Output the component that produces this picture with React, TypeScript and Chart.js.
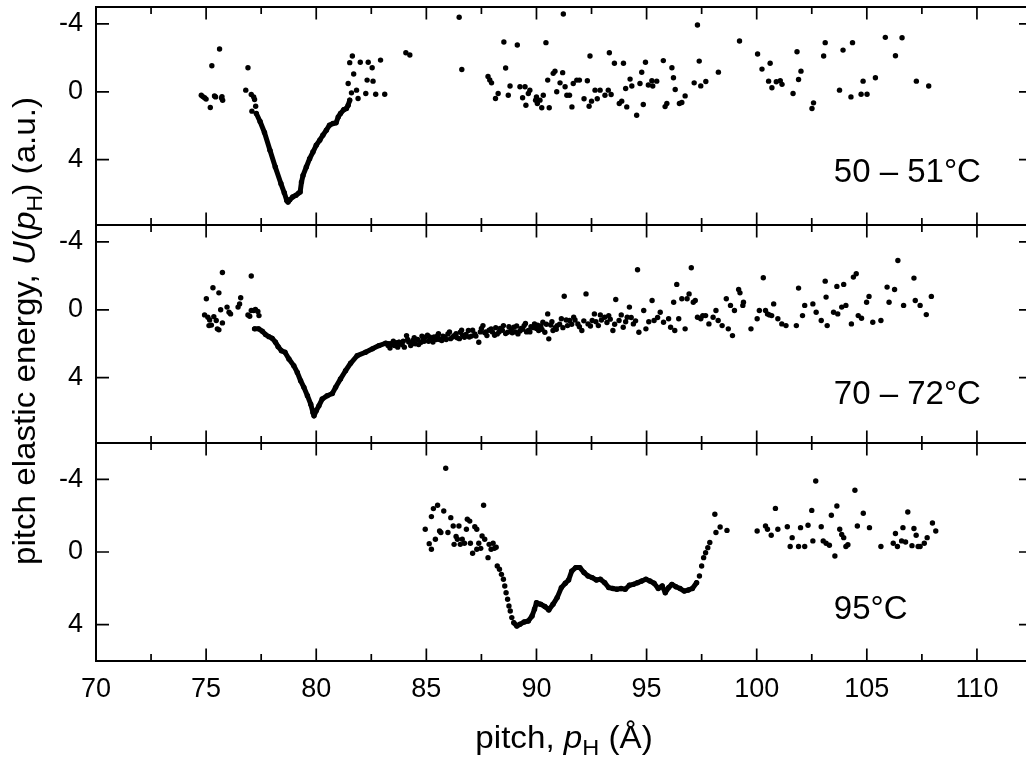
import React, { useEffect, useRef } from "react";
import { Chart, registerables } from "chart.js";

Chart.register(...registerables);

// ---------- data ----------
const xTicks = [70, 75, 80, 85, 90, 95, 100, 105, 110];
const xMinorTicks = [72.5, 77.5, 82.5, 87.5, 92.5, 97.5, 102.5, 107.5];
const yTicks = [-4, 0, 4];

const panelLabels = ["50 – 51°C", "70 – 72°C", "95°C"];

// panel 1 (50 – 51 °C)
const p1Scatter: number[][] = [
  [74.78, 0.2], [74.85, 0.28], [74.93, 0.35], [75.0, 0.43], [75.19, 0.92], [75.26, -1.54],
  [75.38, 0.25], [75.43, 0.3], [75.61, -2.52], [75.7, 0.37], [75.72, 0.28], [75.75, 0.5],
  [76.8, -0.1], [76.9, -1.42], [77.05, 0.16], [77.16, 0.3], [77.2, 0.45], [77.25, 0.85], [77.08, 1.14],
  [81.45, -0.49], [81.52, -1.72], [81.64, -2.11], [81.7, -1.05], [81.6, 0.06], [81.83, -0.1],
  [81.9, 0.39], [82.0, -1.74], [82.25, 0.1], [82.31, -0.69], [82.36, -1.74], [82.54, -1.42],
  [82.58, -0.63], [82.7, 0.14], [82.92, -1.87], [83.11, 0.14],
  [84.07, -2.3], [84.25, -2.17], [86.49, -4.4], [86.61, -1.32],
  [87.8, -0.9], [87.88, -0.7], [87.96, -0.53], [88.14, 0.39], [88.26, 0.1], [88.52, -2.94],
  [88.6, -1.4], [88.72, 0.2], [88.8, -0.34], [89.13, -2.76], [89.25, -0.3], [89.48, -0.3],
  [89.37, 0.35], [89.52, 0.79], [89.63, 0.1], [89.7, -0.1], [89.96, 0.49], [90.0, 0.3],
  [90.04, 0.69], [90.16, 0.49], [90.24, 0.94], [90.31, 0.2], [90.43, -2.9], [90.51, -0.69],
  [90.58, 0.94], [90.76, -1.09], [90.84, -1.22], [90.92, 0.0], [91.07, -0.53], [91.19, -1.13],
  [91.22, -4.59], [91.3, -0.3], [91.38, 0.2], [91.5, 0.2], [91.61, 0.89], [91.67, -0.49],
  [91.83, -0.69], [91.95, -0.69], [92.16, 0.41], [92.31, -0.65], [92.43, -2.11], [92.39, 0.85],
  [92.5, 0.55], [92.66, -0.1], [92.89, -0.1], [92.76, 0.41], [93.11, 0.2], [93.26, -0.1],
  [93.39, 0.16], [93.31, -2.3], [93.54, -1.68], [93.95, -1.68], [93.76, 0.69], [93.87, 0.55],
  [94.1, 0.89], [94.05, -0.2], [94.25, -0.75], [94.33, -0.34], [94.55, 1.38], [94.7, -0.49],
  [94.78, -1.15], [94.85, 0.75], [94.95, -1.74], [95.08, -0.4], [95.28, -0.34], [95.46, -0.63],
  [95.24, -0.65], [95.76, -1.84], [95.84, 0.87], [95.92, 0.69], [96.15, -1.42], [96.22, -0.83],
  [96.3, -0.14], [96.49, 0.69], [96.6, 0.63], [96.75, 0.24], [97.16, -0.53], [97.31, -3.94],
  [97.39, -1.81], [97.46, -0.35], [97.69, -0.61], [98.26, -1.16], [99.22, -3.0], [100.04, -2.23],
  [100.24, -1.34], [100.61, -1.68], [100.54, -0.63], [100.69, -0.24], [100.89, -0.59],
  [101.07, -0.65], [101.15, -0.44], [101.65, 0.1], [101.83, -2.36], [101.9, -0.73], [102.01, -1.22],
  [102.51, 0.98], [102.58, 0.65], [103.04, -2.11], [103.11, -2.9], [103.76, -0.1], [103.92, -2.46],
  [104.28, 0.3], [104.35, -2.9], [104.74, 0.14], [105.01, 0.14], [104.83, -0.63], [105.39, -0.83],
  [105.84, -3.21], [106.3, -2.13], [106.6, -3.19], [107.25, -0.63], [107.81, -0.34],
];
const p1Curve: number[][] = [
  [77.28, 1.28], [77.45, 1.75], [77.65, 2.4], [77.9, 3.45], [78.14, 4.43], [78.4, 5.42],
  [78.55, 5.95], [78.66, 6.4], [78.72, 6.5], [78.8, 6.36], [78.93, 6.2], [79.08, 6.1],
  [79.2, 5.97], [79.27, 5.9], [79.33, 5.32], [79.4, 4.93], [79.55, 4.43], [79.7, 3.94],
  [79.85, 3.55], [80.0, 3.15], [80.16, 2.85], [80.3, 2.56], [80.46, 2.26], [80.6, 1.97],
  [80.76, 1.87], [80.9, 1.83], [81.0, 1.48], [81.1, 1.28], [81.25, 1.05], [81.37, 0.98],
  [81.45, 0.79], [81.52, 0.49],
];

// panel 2 (70 – 72 °C)
const p2Scatter: number[][] = [
  [74.93, 0.3], [75.01, -0.65], [75.08, 0.44], [75.16, 0.6], [75.13, 0.93], [75.24, 0.9],
  [75.31, -1.3], [75.35, 0.4], [75.46, 0.63], [75.51, 1.12], [75.58, 1.18], [75.58, -1.0],
  [75.66, 0.0], [75.74, 0.77], [75.74, -2.2], [75.95, -0.16], [76.04, 0.14], [76.11, 0.24],
  [76.45, -0.16], [76.52, -0.35], [76.57, -0.71], [76.9, 0.3], [76.98, 0.38], [77.05, -1.99],
  [77.05, 0.04], [77.16, 0.04], [77.24, -0.02], [77.35, 0.1], [77.4, 0.34],
  [83.26, 2.11], [83.4, 2.0], [83.55, 2.1], [83.65, 1.95], [83.82, 2.0], [83.95, 1.85],
  [84.1, 1.52], [84.2, 1.9], [84.29, 2.11], [84.39, 1.81], [84.5, 2.0], [84.6, 1.75],
  [84.76, 1.91], [84.85, 1.7], [84.95, 1.62], [85.1, 1.85], [85.23, 1.71], [85.35, 1.6],
  [85.51, 1.52], [85.6, 1.75], [85.7, 1.81], [85.85, 1.6], [85.98, 1.42], [86.1, 1.7],
  [86.26, 1.52], [86.4, 1.65], [86.54, 1.32], [86.65, 1.5], [86.73, 1.62], [86.91, 1.22],
  [87.05, 1.55], [87.2, 1.42], [87.38, 1.91], [87.45, 1.3], [87.57, 0.93], [87.65, 1.35],
  [87.75, 1.52], [87.85, 1.2], [87.94, 1.12], [88.1, 1.5], [88.22, 1.42], [88.35, 1.1],
  [88.5, 0.93], [88.6, 1.4], [88.69, 1.32], [88.85, 1.15], [88.97, 1.03], [89.05, 1.3],
  [89.16, 1.42], [89.3, 1.1], [89.44, 0.93], [89.55, 1.3], [89.63, 1.22], [89.75, 1.0],
  [89.91, 0.83], [90.0, 1.1], [90.1, 1.22], [90.2, 0.95], [90.29, 0.73], [90.38, 1.32],
  [90.51, 0.24], [90.56, 1.71], [90.65, 0.9], [90.75, 1.22], [90.85, 1.05], [90.94, 0.93],
  [83.35, 2.25], [83.5, 1.85], [83.7, 2.2], [83.9, 2.05], [84.0, 2.2], [84.15, 1.75],
  [84.35, 2.0], [84.45, 1.65], [84.65, 2.05], [84.8, 1.55], [84.9, 1.85], [85.05, 1.5],
  [85.15, 1.6], [85.3, 1.9], [85.45, 1.75], [85.55, 1.4], [85.75, 1.55], [85.9, 1.75],
  [86.05, 1.3], [86.2, 1.6], [86.35, 1.4], [86.5, 1.7], [86.6, 1.2], [86.8, 1.45],
  [86.95, 1.6], [87.1, 1.2], [87.25, 1.55], [87.5, 1.1], [87.7, 1.3], [88.0, 1.3],
  [88.15, 1.05], [88.3, 1.3], [88.45, 1.2], [88.75, 1.0], [88.9, 1.35], [89.1, 0.95],
  [89.25, 1.25], [89.38, 1.15], [89.5, 0.8], [89.7, 1.3], [89.85, 1.05], [90.05, 0.9],
  [90.25, 1.15], [90.45, 0.85], [90.7, 0.7], [90.9, 1.15], [91.05, 0.85], [91.2, 1.05],
  [91.35, 0.6], [91.6, 0.85], [91.75, 0.6], [91.95, 1.0], [92.15, 0.65], [92.45, 0.95],
  [92.7, 0.7], [92.9, 0.3], [93.2, 0.75], [93.35, 0.55], [93.55, 0.85], [93.85, 0.3],
  [94.05, 0.7], [94.3, 0.45], [94.5, 0.65],
  [91.13, 0.53], [91.26, -0.8], [91.41, 0.93], [91.5, 0.63], [91.69, 0.44], [91.88, 0.83],
  [92.06, 1.22], [92.25, -0.94], [92.34, 0.83], [92.53, 0.63], [92.63, 0.24], [92.81, 0.93],
  [92.95, 0.6], [93.1, 0.44], [93.28, 0.34], [93.47, 1.22], [93.6, -0.61], [93.75, 0.63],
  [93.94, 1.03], [94.12, 0.44], [94.22, -0.16], [94.4, 0.83], [94.59, -2.36], [94.65, 1.32],
  [94.87, 0.04], [94.97, 1.12], [95.1, 0.7], [95.25, -0.55], [95.34, 0.63], [95.5, 0.45],
  [95.62, 0.14], [95.77, 0.73], [96.0, 0.53], [96.09, 1.03], [96.23, -0.45], [96.28, 1.22],
  [96.37, -1.5], [96.46, 0.53], [96.6, -0.65], [96.75, 1.12], [96.84, -0.65], [96.93, -0.94],
  [97.03, -2.48], [97.12, -0.45], [97.21, -0.55], [97.31, 0.44], [97.46, 0.53], [97.55, 0.35],
  [97.68, 0.34], [97.83, 0.83], [98.02, 0.44], [98.15, 0.04], [98.25, 0.63], [98.43, 0.93],
  [98.62, -0.65], [98.71, 1.12], [98.81, -0.26], [98.9, 1.52], [98.99, 0.04], [99.18, -1.2],
  [99.24, -1.0], [99.37, -0.26], [99.4, -0.45], [99.74, 1.12], [100.02, 0.53], [100.12, 0.04],
  [100.3, -1.89], [100.4, 0.04], [100.49, 0.24], [100.58, 0.3], [100.68, 0.34], [100.77, -0.35],
  [100.96, 0.53], [101.14, 0.83], [101.33, 0.93], [101.8, 0.93], [101.9, -1.28], [102.08, 0.34],
  [102.18, -0.26], [102.55, -0.35], [102.7, 0.14], [102.93, 0.63], [103.11, -1.69], [103.15, -0.75],
  [103.2, 0.93], [103.49, 0.14], [103.64, -1.38], [103.68, 0.24], [103.86, -0.16], [103.95, -1.5],
  [104.05, -0.26], [104.3, 0.83], [104.39, -1.93], [104.52, -2.13], [104.61, 0.34], [104.76, 0.5],
  [104.99, -0.45], [105.1, -0.79], [105.27, 0.73], [105.64, 0.63], [105.92, -1.34], [106.01, -0.45],
  [106.26, -1.2], [106.41, -2.91], [106.67, -0.26], [107.14, -1.87], [107.2, -0.55], [107.42, -0.26],
  [107.7, 0.28], [107.93, -0.79],
];
const p2Curve: number[][] = [
  [77.2, 1.12], [77.39, 1.12], [77.55, 1.26], [77.7, 1.46], [77.85, 1.58], [78.0, 1.68],
  [78.15, 1.91], [78.27, 2.17], [78.42, 2.41], [78.58, 2.5], [78.76, 2.9], [78.98, 3.29],
  [79.14, 3.69], [79.29, 4.18], [79.44, 4.57], [79.6, 5.06], [79.75, 5.56], [79.85, 6.05],
  [79.9, 6.25], [80.0, 5.95], [80.12, 5.66], [80.27, 5.26], [80.5, 5.06], [80.73, 4.93],
  [80.88, 4.57], [81.1, 4.08], [81.33, 3.59], [81.56, 3.15], [81.86, 2.7], [82.24, 2.5],
  [82.55, 2.3], [82.85, 2.11], [83.15, 1.97], [83.45, 2.01], [83.76, 1.91],
];

// panel 3 (95 °C)
const p3Scatter: number[][] = [
  [84.95, -1.25], [85.13, -0.46], [85.23, -0.15], [85.23, -1.95], [85.32, -2.39], [85.41, -0.7],
  [85.51, -2.57], [85.6, -1.16], [85.66, -1.07], [85.79, -2.26], [85.88, -4.61], [85.98, -1.07],
  [86.11, -1.89], [86.22, -1.43], [86.26, -0.42], [86.35, -0.85], [86.41, -0.7], [86.48, -1.43],
  [86.54, -0.42], [86.63, -0.7], [86.73, -0.48], [86.82, -1.25], [86.86, -1.8], [86.97, -1.7],
  [87.0, -0.48], [87.1, 0.07], [87.2, -1.39], [87.29, -1.25], [87.29, -0.15], [87.38, -0.48],
  [87.47, -0.2], [87.53, -0.88], [87.6, -2.57], [87.65, -0.7], [87.8, 0.31], [87.85, -0.42],
  [87.94, -0.15], [88.03, -0.48], [88.09, -0.2], [88.17, -0.26],
  [88.22, 0.77], [88.32, 0.95], [88.41, 1.23], [88.5, 1.5], [88.56, 1.87], [88.62, 2.24],
  [88.69, 2.6], [88.75, 2.97], [88.81, 3.25], [88.88, 3.61],
  [97.4, 1.32], [97.5, 0.77], [97.59, 0.31], [97.68, 0.04], [97.78, -0.24], [97.87, -0.52],
  [98.1, -2.08], [98.15, -1.07], [98.34, -1.38], [98.65, -1.19],
  [100.02, -1.16], [100.4, -1.43], [100.49, -1.25], [100.66, -0.92], [100.85, -2.4], [100.96, -1.25],
  [101.39, -1.39], [101.61, -0.79], [101.52, -0.3], [101.9, -0.3], [102.18, -0.3], [101.99, -1.34],
  [102.33, -1.47], [102.5, -2.29], [102.55, -0.61], [102.68, -3.91], [102.93, -1.39], [103.02, -0.61],
  [103.15, -0.48], [103.3, -0.37], [103.39, -2.02], [103.55, 0.22], [103.64, -2.53], [103.77, -1.25],
  [103.86, -0.97], [103.95, -0.79], [104.05, -0.3], [104.14, -0.4], [104.46, -3.4], [104.57, -1.43],
  [104.84, -2.13], [105.12, -1.34], [105.64, -0.3], [106.2, -0.48], [106.3, -1.02], [106.39, -0.3],
  [106.58, -0.61], [106.64, -1.34], [106.76, -0.55], [106.86, -2.2], [107.05, -0.35], [107.14, -1.29],
  [107.24, -0.92], [107.33, -0.3], [107.42, -0.3], [107.61, -0.48], [107.74, -0.79], [107.98, -1.6],
  [108.13, -1.16],
];
const p3Curve: number[][] = [
  [88.97, 3.89], [89.11, 4.07], [89.25, 3.98], [89.44, 3.85], [89.63, 3.8], [89.8, 3.52],
  [89.91, 3.15], [90.0, 2.79], [90.19, 2.88], [90.38, 3.0], [90.56, 3.19], [90.75, 2.88],
  [90.94, 2.51], [91.13, 1.96], [91.31, 1.72], [91.46, 1.54], [91.6, 1.05], [91.78, 0.86],
  [91.97, 0.86], [92.16, 1.13], [92.34, 1.32], [92.53, 1.41], [92.72, 1.54], [92.9, 1.5],
  [93.1, 1.69], [93.28, 1.96], [93.47, 2.01], [93.65, 2.05], [93.84, 2.01], [94.03, 2.05],
  [94.22, 1.83], [94.4, 1.78], [94.59, 1.69], [94.78, 1.6], [94.97, 1.5], [95.15, 1.6],
  [95.34, 1.72], [95.53, 2.01], [95.71, 1.87], [95.85, 2.24], [96.0, 1.96], [96.15, 1.78],
  [96.33, 1.91], [96.52, 2.01], [96.71, 2.15], [96.9, 2.09], [97.08, 2.01], [97.27, 1.69],
];

// ---------- layout / style constants ----------
const FONT = '"Liberation Sans", Arial, Helvetica, sans-serif';
const CANVAS_W = 1040;
const CANVAS_H = 764;
const panelIds = ["y1", "y2", "y3"];
const panelRange = [
  { min: -5, max: 7.85 },
  { min: -5, max: 7.85 },
  { min: -6, max: 6 },
];
const labelAnchor = [
  { x: 103.5, y: 5.34 },
  { x: 103.5, y: 5.56 },
  { x: 103.5, y: 3.7 },
];

type Seg = { t: string; it?: boolean; sub?: boolean };
const xTitleSegs: Seg[] = [{ t: "pitch, " }, { t: "p", it: true }, { t: "H", sub: true }, { t: " (Å)" }];
const yTitleSegs: Seg[] = [
  { t: "pitch elastic energy, " },
  { t: "U", it: true },
  { t: "(" },
  { t: "p", it: true },
  { t: "H", sub: true },
  { t: ") (a.u.)" },
];

function drawRich(ctx: CanvasRenderingContext2D, segs: Seg[], size: number) {
  const fontFor = (s: Seg) => `${s.it ? "italic " : ""}${s.sub ? Math.round(size * 0.7) : size}px ${FONT}`;
  let total = 0;
  const widths = segs.map((s) => {
    ctx.font = fontFor(s);
    const w = ctx.measureText(s.t).width;
    total += w;
    return w;
  });
  let x = -total / 2;
  segs.forEach((s, i) => {
    ctx.font = fontFor(s);
    ctx.fillText(s.t, x, s.sub ? size * 0.24 : 0);
    x += widths[i];
  });
}

const framePlugin = {
  id: "panelFrames",
  afterDraw(chart: any) {
    const ctx: CanvasRenderingContext2D = chart.ctx;
    const xs = chart.scales.x;
    const { left, right, top, bottom } = chart.chartArea;
    ctx.save();
    ctx.strokeStyle = "#000";
    ctx.fillStyle = "#000";
    panelIds.forEach((id, i) => {
      const ys = chart.scales[id];
      const pt = ys.top;
      const pb = ys.bottom;
      ctx.lineWidth = 1.7;
      ctx.beginPath();
      xTicks.forEach((v) => {
        const px = xs.getPixelForValue(v);
        ctx.moveTo(px, pt);
        ctx.lineTo(px, pt + 12.5);
        ctx.moveTo(px, pb);
        ctx.lineTo(px, pb - 12.5);
      });
      xMinorTicks.forEach((v) => {
        const px = xs.getPixelForValue(v);
        ctx.moveTo(px, pt);
        ctx.lineTo(px, pt + 7);
        ctx.moveTo(px, pb);
        ctx.lineTo(px, pb - 7);
      });
      yTicks.forEach((v) => {
        const py = ys.getPixelForValue(v);
        ctx.moveTo(left, py);
        ctx.lineTo(left + 13, py);
        ctx.moveTo(right, py);
        ctx.lineTo(right - 13, py);
      });
      ctx.stroke();
      ctx.lineWidth = 2;
      ctx.strokeRect(left, pt, right - left, pb - pt);

      // panel label
      ctx.font = `33px ${FONT}`;
      ctx.textAlign = "left";
      ctx.textBaseline = "alphabetic";
      ctx.fillText(panelLabels[i], xs.getPixelForValue(labelAnchor[i].x), ys.getPixelForValue(labelAnchor[i].y));
    });

    // x title
    ctx.textAlign = "left";
    ctx.textBaseline = "alphabetic";
    ctx.save();
    ctx.translate((left + right) / 2, 748);
    ctx.scale(1.07, 1);
    drawRich(ctx, xTitleSegs, 31);
    ctx.restore();

    // y title
    ctx.save();
    ctx.translate(35, (top + bottom) / 2 - 3);
    ctx.rotate(-Math.PI / 2);
    ctx.scale(1.07, 1);
    drawRich(ctx, yTitleSegs, 31);
    ctx.restore();

    ctx.restore();
  },
};

function toPts(a: number[][]) {
  return a.map((p) => ({ x: p[0], y: p[1] }));
}

export default function App() {
  const ref = useRef<HTMLCanvasElement | null>(null);

  useEffect(() => {
    if (!ref.current) return;
    const dot = {
      showLine: false,
      pointRadius: 2.7,
      pointBorderWidth: 0,
      pointBackgroundColor: "#000",
      backgroundColor: "#000",
      borderColor: "#000",
    };
    const curve = {
      showLine: true,
      borderWidth: 5,
      borderColor: "#000",
      backgroundColor: "#000",
      pointRadius: 2.7,
      pointBorderWidth: 0,
      pointBackgroundColor: "#000",
      tension: 0,
      borderCapStyle: "round",
      borderJoinStyle: "round",
      fill: false,
    };
    const datasets: any[] = [
      { ...dot, label: "p1 scatter", data: toPts(p1Scatter), yAxisID: "y1" },
      { ...curve, label: "p1 curve", data: toPts(p1Curve), yAxisID: "y1" },
      { ...dot, label: "p2 scatter", data: toPts(p2Scatter), yAxisID: "y2" },
      { ...curve, label: "p2 curve", data: toPts(p2Curve), yAxisID: "y2" },
      { ...dot, label: "p3 scatter", data: toPts(p3Scatter), yAxisID: "y3" },
      { ...curve, label: "p3 curve", data: toPts(p3Curve), yAxisID: "y3" },
    ];

    const yScale = (i: number) => ({
      type: "linear",
      position: "left",
      stack: "panels",
      stackWeight: 1,
      weight: 3 - i,
      reverse: true,
      min: panelRange[i].min,
      max: panelRange[i].max,
      afterBuildTicks: (s: any) => {
        s.ticks = yTicks.map((v) => ({ value: v }));
      },
      afterFit: (s: any) => {
        s.width = 96;
        s.paddingTop = 0;
        s.paddingBottom = 0;
      },
      grid: { display: false, drawTicks: false },
      border: { display: false },
      ticks: {
        padding: 13,
        color: "#000",
        font: { family: FONT, size: 27 },
        callback: (v: any) => String(v),
      },
    });

    const chart = new Chart(ref.current, {
      type: "scatter",
      data: { datasets },
      options: {
        animation: false,
        responsive: false,
        devicePixelRatio: 1,
        events: [],
        layout: { padding: { left: 0, right: 8, top: 7, bottom: 0 } },
        plugins: {
          legend: { display: false },
          tooltip: { enabled: false },
          colors: { enabled: false },
        } as any,
        scales: {
          x: {
            type: "linear",
            position: "bottom",
            min: 70,
            max: 112.5,
            afterBuildTicks: (s: any) => {
              s.ticks = xTicks.map((v) => ({ value: v }));
            },
            afterFit: (s: any) => {
              s.height = 103;
              s.paddingLeft = 0;
              s.paddingRight = 0;
            },
            grid: { display: false, drawTicks: false },
            border: { display: false },
            ticks: {
              padding: 12,
              color: "#000",
              maxRotation: 0,
              autoSkip: false,
              font: { family: FONT, size: 27 },
              callback: (v: any) => String(v),
            },
          },
          y1: yScale(0),
          y2: yScale(1),
          y3: yScale(2),
        } as any,
      },
      plugins: [framePlugin],
    } as any);

    return () => chart.destroy();
  }, []);

  return (
    <div
      style={{
        position: "fixed",
        left: 0,
        top: 0,
        width: 1026,
        height: 764,
        overflow: "hidden",
        background: "#fff",
      }}
    >
      <canvas
        ref={ref}
        width={CANVAS_W}
        height={CANVAS_H}
        style={{ display: "block", width: CANVAS_W, height: CANVAS_H }}
      />
    </div>
  );
}
